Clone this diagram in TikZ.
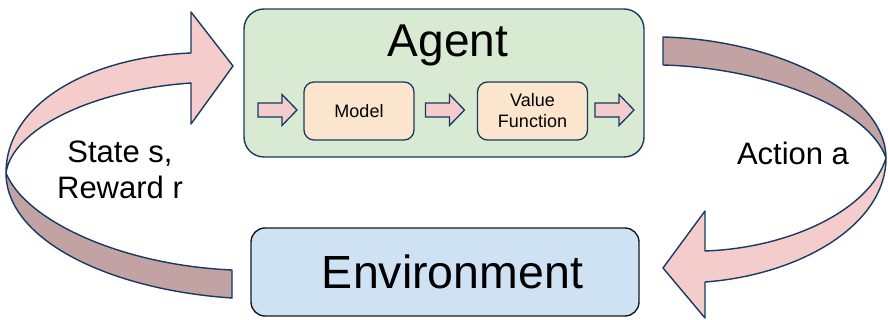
\documentclass[tikz,border=0pt]{standalone}
\usepackage{fontspec}
\setmainfont{Liberation Sans}
\definecolor{navy}{RGB}{22,58,98}
\definecolor{pinkf}{RGB}{244,204,204}
\definecolor{darkf}{RGB}{194,162,162}
\definecolor{greenf}{RGB}{217,234,211}
\definecolor{bluef}{RGB}{207,226,243}
\definecolor{peachf}{RGB}{252,229,205}
\definecolor{envline}{RGB}{25,25,30}
\tikzset{
  ribbonpink/.style={fill=pinkf,draw=navy,line width=1.4pt,line join=round},
  ribbondark/.style={fill=darkf,draw=navy,line width=1.4pt,line join=round},
  agentbox/.style={draw=navy,fill=greenf,line width=1.4pt,rounded corners=20pt,minimum width=400pt,minimum height=148pt,inner sep=0pt},
  envbox/.style={draw=envline,fill=bluef,line width=1.4pt,rounded corners=14pt,minimum width=388pt,minimum height=88pt,inner sep=0pt},
  innerbox/.style={draw=navy,fill=peachf,line width=1.3pt,rounded corners=10pt,minimum width=110pt,minimum height=58pt,inner sep=0pt,align=center,font=\fontsize{18}{21}\selectfont},
  bigtext/.style={font=\fontsize{46}{54}\selectfont,inner sep=0pt},
  envtext/.style={font=\fontsize{46.5}{54}\selectfont,inner sep=0pt},
  labeltext/.style={font=\fontsize{31}{36}\selectfont,align=center,inner sep=0pt},
  smallarrow/.pic={\draw[fill=pinkf,draw=navy,line width=1.3pt,line join=miter]
     (-19.5,-7) -- (4.5,-7) -- (4.5,-15.5) -- (19.5,0) -- (4.5,15.5) -- (4.5,7) -- (-19.5,7) -- cycle;}
}
\begin{document}
\begin{tikzpicture}[x=1pt,y=-1pt]
\useasboundingbox (0,0) rectangle (888,320);
% left ribbon arrow (state, reward)
\draw[ribbondark] (6,173) .. controls (6,240) and (110,290) .. (232,298) -- (232,270)
   .. controls (120,265) and (25,220) .. (6,173) -- cycle;
\draw[ribbonpink] (191,53) .. controls (90,57) and (6,103) .. (6,173)
   .. controls (12,130) and (90,90) .. (191,83) -- (191,124) -- (233,66) -- (191,12) -- cycle;
% right ribbon arrow (action)
\draw[ribbondark] (663,37) .. controls (780,40) and (886,95) .. (886,158)
   .. controls (870,110) and (770,68) .. (663,65) -- cycle;
\draw[ribbonpink] (886,158) .. controls (886,225) and (800,275) .. (705,282) -- (705,318)
   -- (663,268) -- (705,211) -- (705,251) .. controls (790,248) and (870,210) .. (886,158) -- cycle;
% agent
\node[agentbox] (agent) at (444,83) {};
\node[bigtext,anchor=base] (agentlabel) at (448,57) {Agent};
\node[innerbox] (model) at (359,111) {Model};
\node[innerbox] (value) at (532.5,111) {Value\\Function};
\pic at (277.5,110) {smallarrow};
\pic at (445,110) {smallarrow};
\pic at (614.5,110) {smallarrow};
% environment
\node[envbox] (env) at (445,272) {};
\node[envtext,anchor=base] (envlabel) at (452.5,288) {Environment};
% labels
\node[labeltext] (state) at (120,170) {State s,\\Reward r};
\node[labeltext,anchor=base] (action) at (793,165) {Action a};
\end{tikzpicture}
\end{document}
